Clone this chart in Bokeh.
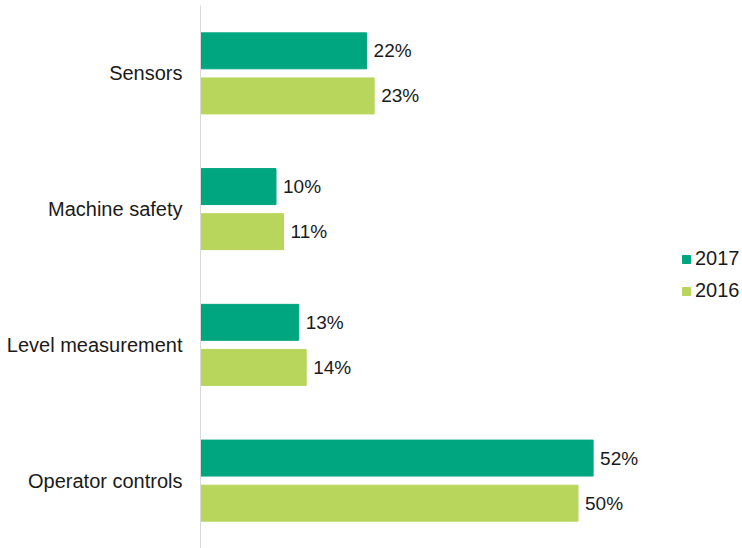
from bokeh.plotting import figure
from bokeh.models import ColumnDataSource, FactorRange, Range1d, Legend, LegendItem
from bokeh.transform import dodge
from bokeh.core.properties import value
from bokeh.embed import file_html
from bokeh.resources import INLINE

categories = ["Sensors", "Machine safety", "Level measurement", "Operator controls"]
values_2017 = [22, 10, 13, 52]
values_2016 = [23, 11, 14, 50]
series_names = ["2017", "2016"]
colors = ["#00A67F", "#B8D55C"]

src = ColumnDataSource(dict(
    cat=categories,
    v2017=values_2017,
    v2016=values_2016,
    l2017=[f"{v}%" for v in values_2017],
    l2016=[f"{v}%" for v in values_2016],
))

FONT = "Liberation Sans"
FS = "19px"
FS_AX = "20px"

p = figure(width=742, height=548, output_backend="svg", toolbar_location=None,
           y_range=FactorRange(factors=list(reversed(categories)), range_padding=0),
           x_range=Range1d(0, 542 / 7.55),
           min_border_left=200, min_border_right=0, min_border_top=5, min_border_bottom=0)
p.outline_line_color = None
p.background_fill_color = "white"
p.border_fill_color = "white"
p.xgrid.visible = False
p.ygrid.visible = False
p.xaxis.visible = False

ax = p.yaxis[0]
ax.axis_line_color = "#D9D9D9"
ax.axis_line_width = 1
ax.major_tick_line_color = None
ax.minor_tick_line_color = None
ax.major_tick_out = 0
ax.major_tick_in = 0
ax.major_label_standoff = 18
ax.major_label_text_font = FONT
ax.major_label_text_font_size = FS_AX
ax.major_label_text_color = "#1A1A1A"

off = 0.166
h = 0.265
r1 = p.hbar(y=dodge("cat", off, range=p.y_range), right="v2017", left=0, height=h,
            source=src, fill_color=colors[0], line_color=colors[0])
r2 = p.hbar(y=dodge("cat", -off, range=p.y_range), right="v2016", left=0, height=h,
            source=src, fill_color=colors[1], line_color=colors[1])

p.text(x="v2017", y=dodge("cat", off, range=p.y_range), text="l2017", source=src,
       x_offset=7, text_baseline="middle", text_align="left",
       text_font=value(FONT), text_font_size=FS, text_color="#1A1A1A")
p.text(x="v2016", y=dodge("cat", -off, range=p.y_range), text="l2016", source=src,
       x_offset=7, text_baseline="middle", text_align="left",
       text_font=value(FONT), text_font_size=FS, text_color="#1A1A1A")

legend = Legend(items=[LegendItem(label=series_names[0], renderers=[r1]),
                       LegendItem(label=series_names[1], renderers=[r2])],
                location=(481, 246), orientation="vertical")
legend.glyph_width = 10
legend.glyph_height = 10
legend.label_height = 20
legend.spacing = 9
legend.padding = 0
legend.margin = 0
legend.label_standoff = 4
legend.label_text_font = FONT
legend.label_text_font_size = FS_AX
legend.label_text_color = "#1A1A1A"
legend.border_line_color = None
legend.background_fill_alpha = 0
p.add_layout(legend, "center")

open("out.html", "w").write(file_html(p, INLINE))
